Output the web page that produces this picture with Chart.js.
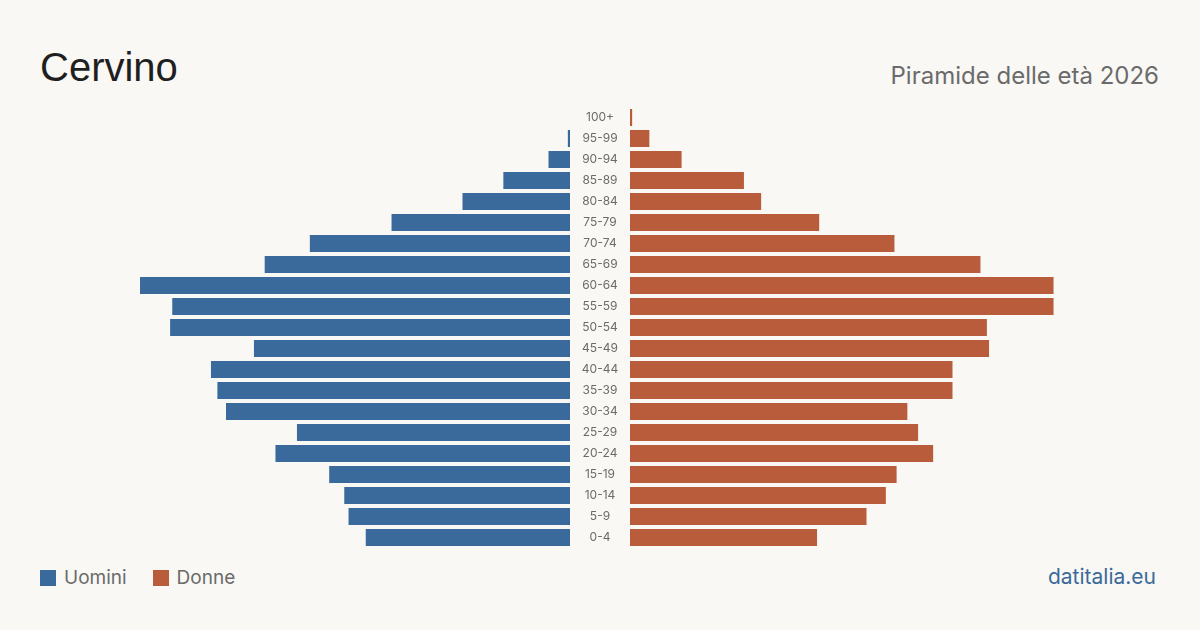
<!DOCTYPE html>
<html>
<head>
<meta charset="utf-8">
<script src="https://cdn.jsdelivr.net/npm/chart.js@4"></script>
<style>
  html, body { margin: 0; padding: 0; }
  body { width: 1200px; height: 630px; background: #f9f8f4; position: relative; overflow: hidden; font-family: Inter, "Noto Sans", sans-serif; }
  .title { position: absolute; left: 40px; top: 47px; font-size: 40px; color: #1f1f1f; line-height: 1; font-family: "Liberation Sans", Arial, sans-serif; }
  .subtitle { position: absolute; right: 41px; top: 64px; font-size: 24px; color: #6b6b6b; line-height: 1; }
  .legend { position: absolute; left: 40px; top: 566px; font-size: 19px; color: #6b6b6b; display: flex; align-items: center; }
  .legend span.sw { display: inline-block; width: 16px; height: 16px; margin-right: 8px; }
  .legend span.lab { margin-right: 26px; }
  .source { position: absolute; right: 44px; top: 564px; font-size: 21px; color: #3a6a9b; }
  #men { position: absolute; left: 140px; top: 107px; }
  #women { position: absolute; left: 570px; top: 107px; }
</style>
</head>
<body>
<div class="title">Cervino</div>
<div class="subtitle">Piramide delle età 2026</div>
<div class="legend">
  <span class="sw" style="background:#3a6a9b"></span><span class="lab">Uomini</span>
  <span class="sw" style="background:#b95c3c"></span><span class="lab">Donne</span>
</div>
<div class="source">datitalia.eu</div>
<div id="men" style="width:430px;height:441px"><canvas id="menCanvas"></canvas></div>
<div id="women" style="width:490px;height:441px"><canvas id="womenCanvas"></canvas></div>
<script>
// age groups, youngest first (drawn bottom to top)
const ageGroups = ['0-4', '5-9', '10-14', '15-19', '20-24', '25-29', '30-34', '35-39', '40-44', '45-49',
  '50-54', '55-59', '60-64', '65-69', '70-74', '75-79', '80-84', '85-89', '90-94', '95-99', '100+'];
const men = [95, 103, 105, 112, 137, 127, 160, 164, 167, 147, 186, 185, 200, 142, 121, 83, 50, 31, 10, 1, 0];
const women = [87, 110, 119, 124, 141, 134, 129, 150, 150, 167, 166, 197, 197, 163, 123, 88, 61, 53, 24, 9, 1];
const axisMax = 200;

const blue = '#3a6a9b';
const orange = '#b95c3c';

function baseOptions(reverseX, padLeft) {
  return {
    indexAxis: 'y',
    responsive: true,
    maintainAspectRatio: false,
    animation: false,
    layout: { padding: { left: padLeft, right: 0, top: 0, bottom: 0 } },
    plugins: { legend: { display: false }, tooltip: { enabled: false } },
    scales: {
      x: { display: false, min: 0, max: axisMax, reverse: reverseX },
      y: { display: false, reverse: true }
    }
  };
}

// draws the age labels in the gap between the two halves
const ageLabels = {
  id: 'ageLabels',
  afterDraw(chart) {
    const ctx = chart.ctx;
    const yScale = chart.scales.y;
    ctx.save();
    ctx.font = '12px Inter, "Noto Sans", sans-serif';
    ctx.fillStyle = '#6b6b6b';
    ctx.textAlign = 'center';
    ctx.textBaseline = 'middle';
    ageGroups.forEach((label, i) => {
      ctx.fillText(label, chart.chartArea.left - 30, yScale.getPixelForValue(i));
    });
    ctx.restore();
  }
};

new Chart(document.getElementById('menCanvas'), {
  type: 'bar',
  data: {
    labels: ageGroups,
    datasets: [{ label: 'Uomini', data: men, backgroundColor: blue, barPercentage: 0.81, categoryPercentage: 1 }]
  },
  options: baseOptions(true, 0)
});

new Chart(document.getElementById('womenCanvas'), {
  type: 'bar',
  data: {
    labels: ageGroups,
    datasets: [{ label: 'Donne', data: women, backgroundColor: orange, barPercentage: 0.81, categoryPercentage: 1 }]
  },
  options: baseOptions(false, 60),
  plugins: [ageLabels]
});
</script>
</body>
</html>
